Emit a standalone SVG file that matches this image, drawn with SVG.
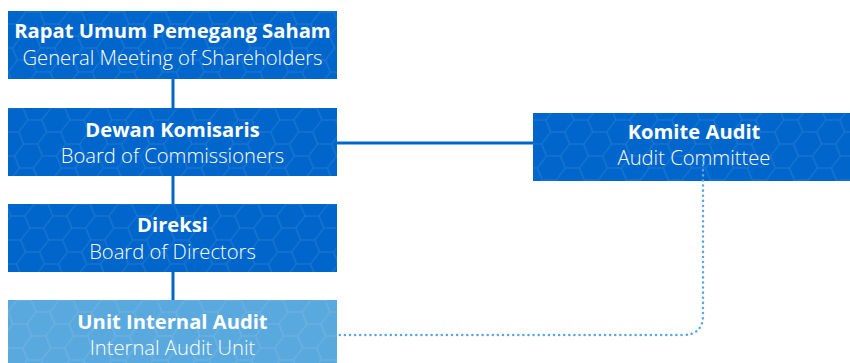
<svg xmlns="http://www.w3.org/2000/svg" width="850" height="363" viewBox="0 0 850 363">
  <defs>
    <!-- faint honeycomb texture laid over the boxes -->
    <pattern id="hex" width="42" height="24" patternUnits="userSpaceOnUse" patternTransform="skewX(-10)">
      <path d="M0 12 L7 0 L21 0 L28 12 L21 24 L7 24 Z M28 12 L42 12" fill="none" stroke="#ffffff" stroke-opacity="0.13" stroke-width="1"/>
    </pattern>
  </defs>
  <style>
    .dark { fill: #0066cc; }
    .light { fill: #5aa9de; }
    .t1 { font-family: "Open Sans", "Liberation Sans", sans-serif; font-weight: bold; font-size: 20.2px; fill: #ffffff; text-anchor: middle; }
    .t2 { font-family: "Open Sans", "Liberation Sans", sans-serif; font-weight: 300; font-size: 20.2px; fill: #ffffff; text-anchor: middle; }
    .tex { fill: url(#hex); }
    .solid { stroke: #0066cc; stroke-width: 3; fill: none; }
    .dotted { stroke: #5aa9de; stroke-width: 2.5; fill: none; stroke-dasharray: 0.1 5; stroke-linecap: round; }
  </style>

  <g id="connectors">
    <line class="solid" x1="173" y1="78" x2="173" y2="301"/>
    <line class="solid" x1="337" y1="143" x2="534" y2="143"/>
  </g>

  <g id="rups">
    <rect class="dark" x="8" y="11" width="329" height="68"/>
    <rect class="tex" x="8" y="11" width="329" height="68"/>
    <text class="t1" x="172.5" y="38">Rapat Umum Pemegang Saham</text>
    <text class="t2" x="172.5" y="65">General Meeting of Shareholders</text>
  </g>

  <g id="dewan-komisaris">
    <rect class="dark" x="8" y="108" width="329" height="68"/>
    <rect class="tex" x="8" y="108" width="329" height="68"/>
    <text class="t1" x="172.5" y="137">Dewan Komisaris</text>
    <text class="t2" x="172.5" y="163">Board of Commissioners</text>
  </g>

  <g id="direksi">
    <rect class="dark" x="8" y="204" width="329" height="68"/>
    <rect class="tex" x="8" y="204" width="329" height="68"/>
    <text class="t1" x="172.5" y="232">Direksi</text>
    <text class="t2" x="172.5" y="259">Board of Directors</text>
  </g>

  <g id="unit-internal-audit">
    <rect class="light" x="8" y="300" width="329" height="63"/>
    <rect class="tex" x="8" y="300" width="329" height="63"/>
    <text class="t1" x="172.5" y="329">Unit Internal Audit</text>
    <text class="t2" x="172.5" y="355">Internal Audit Unit</text>
  </g>

  <g id="komite-audit">
    <rect class="dark" x="533" y="113" width="317" height="68"/>
    <rect class="tex" x="533" y="113" width="317" height="68"/>
    <text class="t1" x="694" y="139">Komite Audit</text>
    <text class="t2" x="694" y="165">Audit Committee</text>
  </g>

  <g id="dotted-link">
    <path class="dotted" d="M703 160 L703 315 Q703 335 683 335 L339 335"/>
  </g>
</svg>
